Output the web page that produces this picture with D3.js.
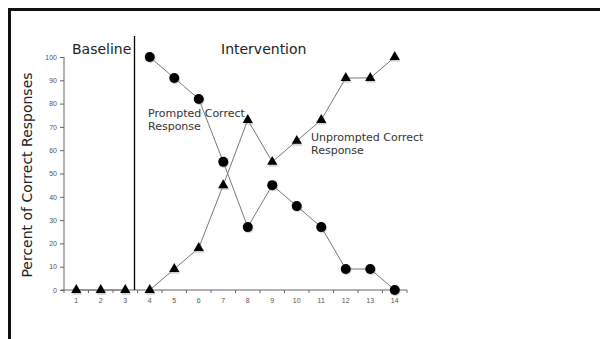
<!DOCTYPE html>
<html>
<head>
<meta charset="utf-8">
<script src="https://cdn.jsdelivr.net/npm/d3@7"></script>
<style>
  body { margin: 0; background: #fff; }
  svg { display: block; font-family: "DejaVu Sans", sans-serif; }
  .tick text { fill: #555; font-size: 7px; }
  .axis path, .axis line { stroke: #666; }
</style>
</head>
<body>
<svg id="chart" width="600" height="339"></svg>
<script>
/* data */
const sessions = [1, 2, 3, 4, 5, 6, 7, 8, 9, 10, 11, 12, 13, 14];
const yTicks = [0, 10, 20, 30, 40, 50, 60, 70, 80, 90, 100];

// unprompted correct (triangles), baseline sessions 1-3, intervention 4-14
const unpromptedBase = [0, 0, 0];
const unpromptedInt = [0, 9, 18, 45, 73, 55, 64, 73, 91, 91, 100];
// prompted correct (circles), intervention only
const promptedInt = [100, 91, 82, 55, 27, 45, 36, 27, 9, 9, 0];

const svg = d3.select("#chart");
const margin = { top: 57, left: 64 };
const innerW = 343, innerH = 233;

// slide frame
svg.append("path")
  .attr("d", "M9.5,345 V9.5 H610")
  .attr("fill", "none").attr("stroke", "#111").attr("stroke-width", 3);

const g = svg.append("g").attr("transform", `translate(${margin.left},${margin.top})`);

const x = d3.scaleBand().domain(sessions).range([0, innerW]);
const y = d3.scaleLinear().domain([0, 100]).range([innerH, 0]);
const cx = d => x(d) + x.bandwidth() / 2;

// y axis
const yAxis = g.append("g").attr("class", "axis")
  .call(d3.axisLeft(y).tickValues(yTicks).tickSize(4).tickSizeOuter(0).tickPadding(3));
yAxis.select(".domain").attr("d", `M0,${innerH + 3}V0`);

// x axis: ticks on band boundaries
const xAxis = g.append("g").attr("class", "axis")
  .attr("transform", `translate(0,${innerH})`)
  .call(d3.axisBottom(x).tickSize(0).tickPadding(8));
xAxis.select(".domain").attr("d", `M-3,0H${innerW}`);
xAxis.selectAll(".bound").data(sessions).enter().append("line")
  .attr("x1", d => x(d) + x.bandwidth()).attr("x2", d => x(d) + x.bandwidth())
  .attr("y1", 0).attr("y2", 3).attr("stroke", "#666");

// phase change line
const phaseX = (x(3) + x.bandwidth() + x(4)) / 2 - 3;
g.append("line")
  .attr("x1", phaseX).attr("x2", phaseX)
  .attr("y1", -21).attr("y2", innerH)
  .attr("stroke", "#000").attr("stroke-width", 1.3);

// phase labels
g.append("text").attr("x", 8).attr("y", -3).attr("font-size", 14).attr("fill", "#222").text("Baseline");
g.append("text").attr("x", 157).attr("y", -3).attr("font-size", 14).attr("fill", "#222").text("Intervention");

// y axis title
svg.append("text")
  .attr("transform", "translate(32,175) rotate(-90)")
  .attr("text-anchor", "middle").attr("font-size", 14).attr("fill", "#222")
  .text("Percent of Correct Responses");

// series
const line = d3.line().x(d => cx(d.s)).y(d => y(d.v));
const baseTri = unpromptedBase.map((v, i) => ({ s: sessions[i], v }));
const intTri = unpromptedInt.map((v, i) => ({ s: sessions[i + 3], v }));
const intCir = promptedInt.map((v, i) => ({ s: sessions[i + 3], v }));

[baseTri, intTri, intCir].forEach(data => {
  g.append("path").datum(data).attr("d", line)
    .attr("fill", "none").attr("stroke", "#777").attr("stroke-width", 1);
});

const tri = d3.symbol().type(d3.symbolTriangle).size(46);
function drawTriangles(data) {
  g.selectAll(null).data(data).enter().append("path")
    .attr("d", tri).attr("transform", d => `translate(${cx(d.s) + 0.8},${y(d.v) + 1.8})`)
    .attr("fill", "#aaa").attr("opacity", 0.5);
  g.selectAll(null).data(data).enter().append("path")
    .attr("d", tri).attr("transform", d => `translate(${cx(d.s)},${y(d.v)})`)
    .attr("fill", "#000");
}
drawTriangles(baseTri);
drawTriangles(intTri);

g.selectAll(null).data(intCir).enter().append("circle")
  .attr("cx", d => cx(d.s) + 0.8).attr("cy", d => y(d.v) + 1.2).attr("r", 5)
  .attr("fill", "#aaa").attr("opacity", 0.5);
g.selectAll(null).data(intCir).enter().append("circle")
  .attr("cx", d => cx(d.s)).attr("cy", d => y(d.v)).attr("r", 5)
  .attr("fill", "#000");

// series labels
const lab = (tx, ty, lines) => {
  const t = g.append("text").attr("x", tx).attr("y", ty).attr("font-size", 11).attr("fill", "#333");
  lines.forEach((s, i) => t.append("tspan").attr("x", tx).attr("dy", i ? 13 : 0).text(s));
};
lab(84, 60, ["Prompted Correct", "Response"]);
lab(247, 84, ["Unprompted Correct", "Response"]);
</script>
</body>
</html>
